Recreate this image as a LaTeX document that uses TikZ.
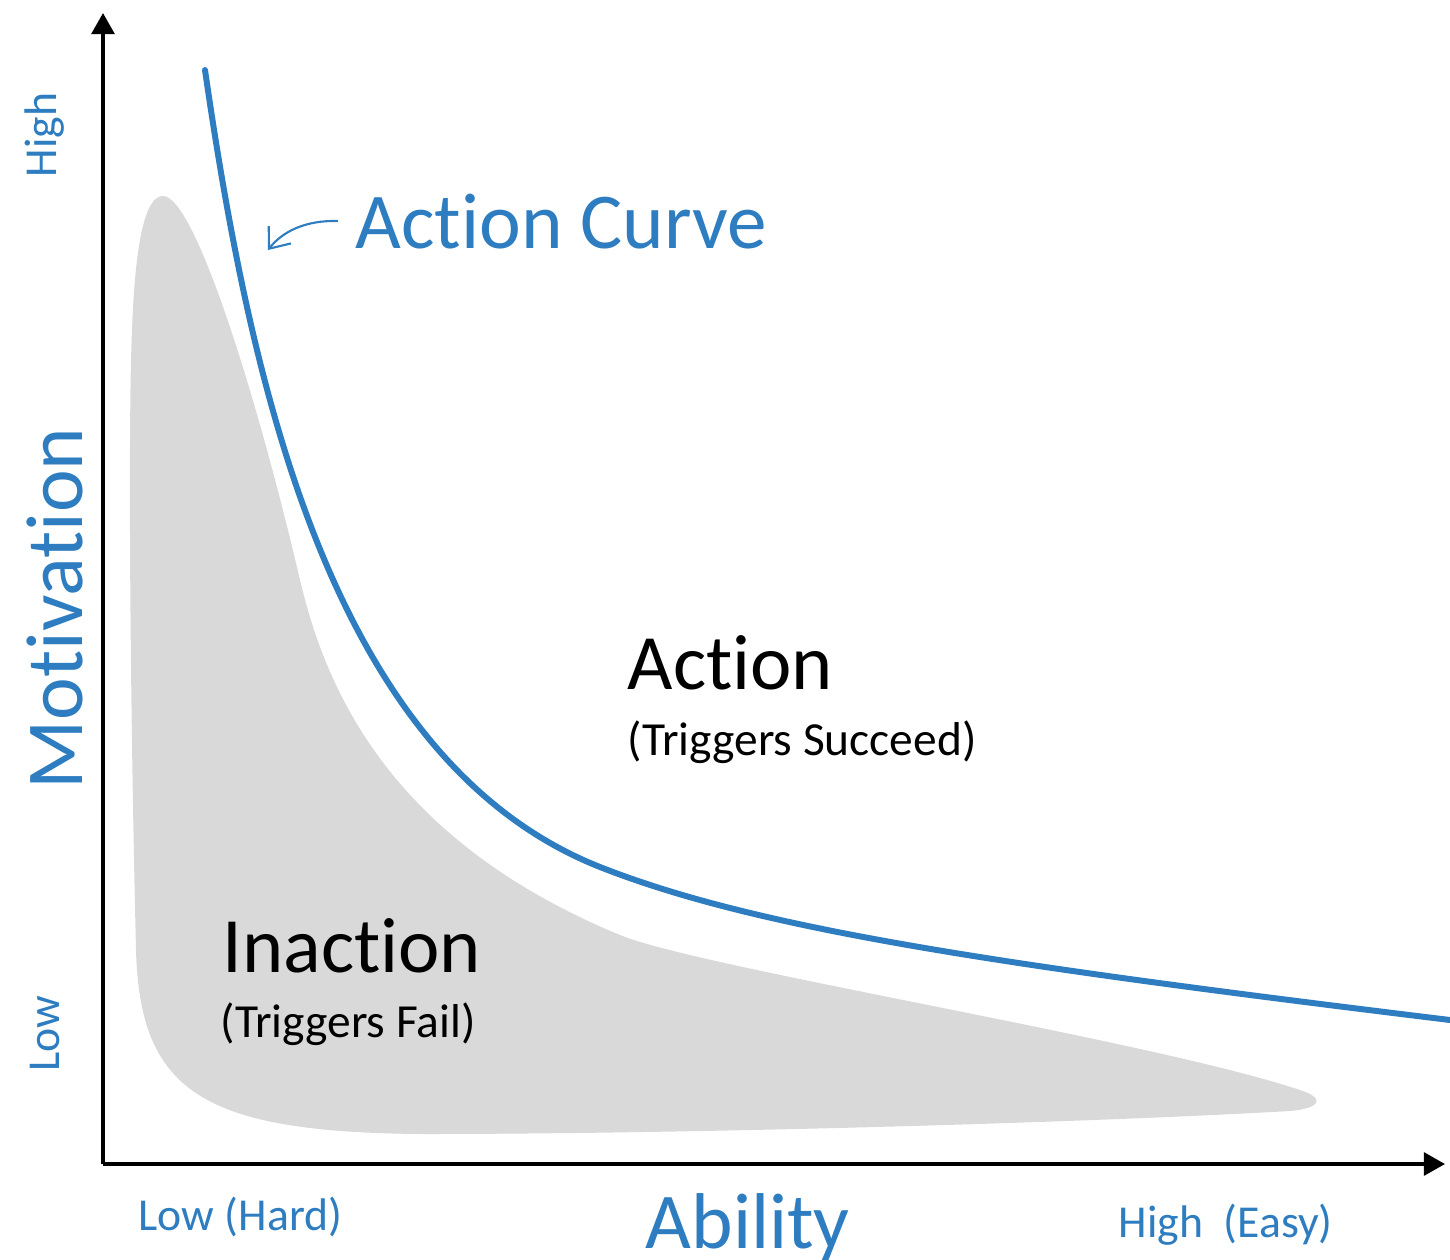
\documentclass[tikz,border=0pt]{standalone}
\usepackage{fontspec}
\setmainfont{Carlito}[Ligatures=NoCommon]
\usetikzlibrary{arrows.meta}
\definecolor{fbblue}{HTML}{2E7DC0}
\definecolor{fbgray}{HTML}{D9D9D9}
\tikzset{
  axisline/.style={line width=1pt, black, -{Triangle[length=6pt,width=6.5pt]}},
  actcurve/.style={line width=1.7pt, fbblue, line cap=round},
  bigblue/.style={inner sep=0pt, text=fbblue, font=\fontsize{22.5}{27}\selectfont},
  motivfont/.style={inner sep=0pt, text=fbblue, font=\fontsize{23}{27}\selectfont},
  smallblue/.style={inner sep=0pt, text=fbblue, font=\fontsize{13}{16}\selectfont},
  bigblack/.style={inner sep=0pt, text=black, font=\fontsize{22.3}{26}\selectfont},
  smallblack/.style={inner sep=0pt, text=black, font=\fontsize{13.5}{16}\selectfont},
}
\begin{document}
\begin{tikzpicture}[x=0.01cm,y=-0.01cm]
\useasboundingbox (0,0) rectangle (1450,1259);
% inaction region
\fill[fbgray] (163,196)
  .. controls (195,196) and (258,400) .. (300,580)
  .. controls (326,690) and (390,840) .. (620,935)
  .. controls (700,968) and (1150,1040) .. (1300,1090)
  .. controls (1325,1098) and (1322,1108) .. (1290,1111)
  .. controls (1100,1122) and (700,1134) .. (420,1134)
  .. controls (200,1132) and (140,1090) .. (136,950)
  .. controls (130,700) and (128,420) .. (132,330)
  .. controls (136,220) and (150,196) .. (163,196) -- cycle;
% axes
\coordinate (O) at (103,1164);
\coordinate (ytip) at (103,13);
\coordinate (xtip) at (1445,1164);
\draw[axisline] (O) -- (ytip);
\draw[axisline] (O) -- (xtip);
% action curve
\coordinate (cstart) at (205,70);
\coordinate (cmid) at (600,867);
\coordinate (cend) at (1450,1020);
\draw[actcurve] (cstart) .. controls (250,380) and (330,760) .. (cmid)
  .. controls (760,930) and (1000,965) .. (cend);
% labels
\node[bigblue, anchor=base west] (actcurvelbl) at (355,248) {Action Curve};
\coordinate (arrtail) at (338,221);
\coordinate (arrhead) at (268,250);
\draw[fbblue, line width=0.6pt, -{Straight Barb[length=5pt,width=8pt]}]
  (arrtail) .. controls (305,220) and (282,232) .. (arrhead);
\node[bigblack, anchor=base west] (action) at (627,689) {Action};
\node[smallblack, anchor=base west] (actsub) at (627,755) {(Triggers Succeed)};
\node[bigblack, anchor=base west] (inaction) at (222,972) {Inaction};
\node[smallblack, anchor=base west] (inactsub) at (220,1037) {(Triggers Fail)};
\node[motivfont, anchor=base west, rotate=90] (motiv) at (83,790) {Motivation};
\node[smallblue, anchor=base west, rotate=90] (yhigh) at (57,178) {High};
\node[smallblue, anchor=base west, rotate=90] (ylow) at (60,1072) {Low};
\node[bigblue, anchor=base west] (ability) at (645,1248) {Ability};
\node[smallblue, anchor=base west] (xlow) at (138,1230) {Low (Hard)};
\node[smallblue, anchor=base west] (xhigh) at (1118,1237) {High\ \ (Easy)};
\end{tikzpicture}
\end{document}
